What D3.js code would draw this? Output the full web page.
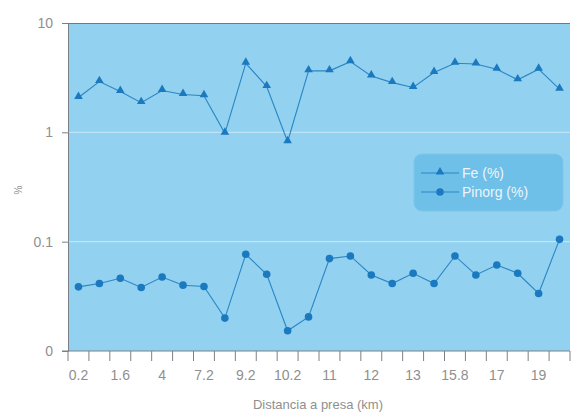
<!DOCTYPE html>
<html>
<head>
<meta charset="utf-8">
<script src="https://cdn.jsdelivr.net/npm/d3@7"></script>
<style>
  body { margin: 0; background: #fff; }
  text { font-family: "Liberation Sans", Arial, sans-serif; }
</style>
</head>
<body>
<div id="chart"></div>
<script>
// distances (km) - odd ones are not labelled in the picture, estimated
var distances = ["0.2","0.9","1.6","2.8","4","5.6","7.2","8.2","9.2","9.7","10.2","10.6",
                 "11","11.5","12","12.5","13","14.4","15.8","16.4","17","18","19","19.5"];
var feValues = [2.08, 2.91, 2.36, 1.87, 2.41, 2.22, 2.16, 0.98, 4.28, 2.62, 0.82, 3.65,
                3.65, 4.43, 3.28, 2.85, 2.57, 3.52, 4.28, 4.22, 3.78, 3.02, 3.78, 2.48];
var pinorgValues = [0.0386, 0.0414, 0.0463, 0.0381, 0.0475, 0.040, 0.0389, 0.020, 0.0766, 0.0503, 0.0153, 0.0205,
                    0.070, 0.074, 0.0496, 0.0414, 0.0514, 0.0414, 0.074, 0.0496, 0.0612, 0.0514, 0.0336, 0.105];
var yTicks = [0.01, 0.1, 1, 10];
var yTickLabels = ["0", "0.1", "1", "10"];
var seriesNames = ["Fe (%)", "Pinorg (%)"];

var fullWidth = 573, fullHeight = 417;
var margin = {top: 23, right: 3, bottom: 66, left: 68};
var width = fullWidth - margin.left - margin.right;
var height = fullHeight - margin.top - margin.bottom;

var svg = d3.select("#chart").append("svg")
  .attr("width", fullWidth).attr("height", fullHeight);
var g = svg.append("g").attr("transform", "translate(" + margin.left + "," + margin.top + ")");

var xScale = d3.scaleBand().domain(distances.map(function(d, i){ return i; }))
  .range([0, width]).paddingInner(0).paddingOuter(0);
var yScale = d3.scaleLog().domain([0.01, 10]).range([height, 0]);

var lineColor = "#2a86c4", markColor = "#1b79bf", labelColor = "#8f8f8f";

// plot background
g.append("rect").attr("x", 0).attr("y", 0).attr("width", width).attr("height", height)
  .style("fill", "#92d1ef");

// gridlines
g.selectAll(".grid").data([0.1, 1]).enter().append("line")
  .attr("x1", 0).attr("x2", width)
  .attr("y1", function(d){ return yScale(d); }).attr("y2", function(d){ return yScale(d); })
  .style("stroke", "#c9e9f8").style("stroke-width", 1);

// top border
g.append("line").attr("x1", -6).attr("x2", width).attr("y1", 0.5).attr("y2", 0.5)
  .style("stroke", "#6f7a80").style("stroke-width", 1.2);

// y axis
var yAxis = d3.axisLeft(yScale).tickValues(yTicks).tickSize(6).tickPadding(9)
  .tickFormat(function(d, i){ return yTickLabels[i]; });
var yg = g.append("g").call(yAxis);
yg.select(".domain").style("stroke", "#7a8186");
yg.selectAll(".tick line").style("stroke", "#7a8186");
yg.selectAll(".tick text").style("fill", labelColor).style("font-size", "14px");

// x axis with ticks between categories
var xg = g.append("g").attr("transform", "translate(0," + height + ")");
xg.append("line").attr("x1", -6).attr("x2", width).attr("y1", 0).attr("y2", 0)
  .style("stroke", "#7a8186");
xg.selectAll(".xtick").data(d3.range(distances.length + 1)).enter().append("line")
  .attr("x1", function(d){ return d * xScale.step(); })
  .attr("x2", function(d){ return d * xScale.step(); })
  .attr("y1", 0).attr("y2", 10)
  .style("stroke", "#7a8186");
xg.selectAll(".xlab").data(distances).enter().append("text")
  .attr("x", function(d, i){ return xScale(i) + xScale.bandwidth() / 2; })
  .attr("y", 29)
  .attr("text-anchor", "middle")
  .style("fill", labelColor).style("font-size", "14px")
  .text(function(d, i){ return i % 2 == 0 ? d : ""; });

// axis titles
svg.append("text").attr("x", 318).attr("y", 409).attr("text-anchor", "middle")
  .style("fill", labelColor).style("font-size", "13px").text("Distancia a presa (km)");
svg.append("text").attr("transform", "translate(22,190) rotate(-90)").attr("text-anchor", "middle")
  .style("fill", labelColor).style("font-size", "10px").text("%");

var cx = function(d, i){ return xScale(i) + xScale.bandwidth() / 2; };
var line = d3.line().x(cx).y(function(d){ return yScale(d); });

// Fe series
g.append("path").datum(feValues).attr("d", line)
  .style("fill", "none").style("stroke", lineColor).style("stroke-width", 1.1);
var tri = d3.symbol().type(d3.symbolTriangle).size(32);
g.selectAll(".fe").data(feValues).enter().append("path")
  .attr("d", tri)
  .attr("transform", function(d, i){ return "translate(" + cx(d, i) + "," + (yScale(d) - 1) + ")"; })
  .style("fill", markColor);

// Pinorg series
g.append("path").datum(pinorgValues).attr("d", line)
  .style("fill", "none").style("stroke", lineColor).style("stroke-width", 1.1);
g.selectAll(".pi").data(pinorgValues).enter().append("circle")
  .attr("cx", cx).attr("cy", function(d){ return yScale(d); }).attr("r", 3.8)
  .style("fill", markColor);

// legend
var lg = svg.append("g").attr("transform", "translate(414,154)");
lg.append("rect").attr("width", 149).attr("height", 57).attr("rx", 8).attr("ry", 8)
  .style("fill", "#6fc0e9").style("stroke", "#7fc6ea");
seriesNames.forEach(function(name, i){
  var yy = 19 + i * 19;
  lg.append("line").attr("x1", 7).attr("x2", 45).attr("y1", yy).attr("y2", yy)
    .style("stroke", lineColor).style("stroke-width", 1.1);
  if(i == 0){
    lg.append("path").attr("d", tri).attr("transform", "translate(26," + (yy - 1) + ")").style("fill", markColor);
  } else {
    lg.append("circle").attr("cx", 26).attr("cy", yy).attr("r", 3.8).style("fill", markColor);
  }
  lg.append("text").attr("x", 48).attr("y", yy + 5)
    .style("fill", "#eef4f7").style("font-size", "14px").text(name);
});
</script>
</body>
</html>
